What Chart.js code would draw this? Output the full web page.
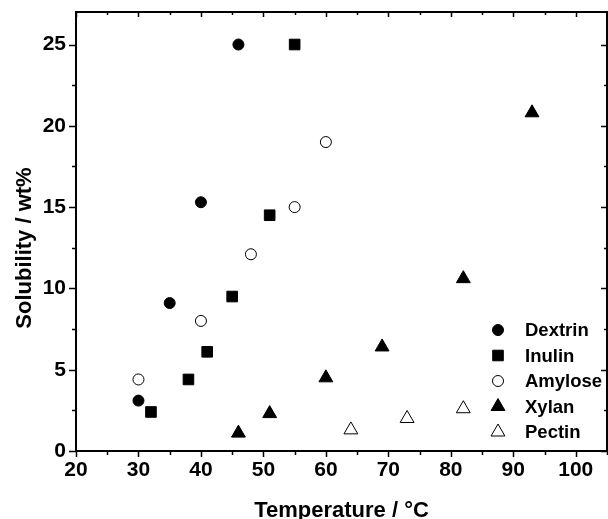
<!DOCTYPE html>
<html>
<head>
<meta charset="utf-8">
<script src="https://cdn.jsdelivr.net/npm/chart.js@4/dist/chart.umd.min.js"></script>
<style>
  html, body { margin: 0; padding: 0; background: #fff; overflow: hidden; }
  #wrap { width: 608px; height: 519px; }
  canvas { display: block; }
</style>
</head>
<body>
<div id="wrap"><canvas id="solChart" width="608" height="519"></canvas></div>
<script>
// solubility data (temperature in degC, solubility in wt%)
var dextrinT = [30, 35, 40, 46];
var dextrinS = [3.1, 9.1, 15.3, 25];
var inulinT = [32, 38, 41, 45, 51, 55];
var inulinS = [2.4, 4.4, 6.1, 9.5, 14.5, 25];
var amyloseT = [30, 40, 48, 55, 60];
var amyloseS = [4.4, 8.0, 12.1, 15.0, 19.0];
var xylanT = [46, 51, 60, 69, 82, 93];
var xylanS = [1.1, 2.3, 4.5, 6.4, 10.6, 20.8];
var pectinT = [64, 73, 82];
var pectinS = [1.3, 2.0, 2.6];

var xTitle = 'Temperature / °C';
var yTitle = 'Solubility / wt%';

var FONT = "'Liberation Sans', Arial, sans-serif";

function pts(xs, ys) {
  return xs.map(function (x, i) { return {x: x, y: ys[i]}; });
}

function series(label, xs, ys, style, filled, r) {
  return {
    label: label,
    data: pts(xs, ys),
    pointStyle: style,
    pointRadius: r,
    pointHoverRadius: r,
    pointBackgroundColor: filled ? '#000' : '#fff',
    pointBorderColor: '#000',
    pointBorderWidth: 1,
    showLine: false
  };
}

// frame + tick marks (outward on left/bottom, inward on top/right)
var frameTicks = {
  id: 'frameTicks',
  afterDraw: function (chart) {
    var ctx = chart.ctx, a = chart.chartArea;
    var xs = chart.scales.x, ys = chart.scales.y;
    ctx.save();
    ctx.strokeStyle = '#000';
    ctx.lineWidth = 1.5;
    for (var v = 20; v <= 105; v += 5) {
      var px = Math.round(xs.getPixelForValue(v)) + 0.5;
      var major = v % 10 === 0;
      ctx.beginPath();
      ctx.moveTo(px, a.bottom); ctx.lineTo(px, a.bottom + (major ? 6 : 4));
      ctx.moveTo(px, a.top); ctx.lineTo(px, a.top + (major ? 5 : 3));
      ctx.stroke();
    }
    for (var w = 0; w <= 27; w += 2.5) {
      var py = Math.round(ys.getPixelForValue(w)) + 0.5;
      var maj = w % 5 === 0;
      ctx.beginPath();
      ctx.moveTo(a.left, py); ctx.lineTo(a.left - (maj ? 7 : 4), py);
      ctx.moveTo(a.right, py); ctx.lineTo(a.right - (maj ? 6 : 3), py);
      ctx.stroke();
    }
    ctx.lineWidth = 2;
    ctx.strokeRect(a.left, a.top, a.right - a.left, a.bottom - a.top);

    // axis titles
    ctx.fillStyle = '#000';
    ctx.font = 'bold 22px ' + FONT;
    ctx.textAlign = 'center';
    ctx.textBaseline = 'alphabetic';
    ctx.fillText(xTitle, (a.left + a.right) / 2, 517);
    ctx.translate(31, 248);
    ctx.rotate(-Math.PI / 2);
    ctx.fillText(yTitle, 0, 0);
    ctx.restore();
  }
};

// legend inside the plot, bottom right
var insideLegend = {
  id: 'insideLegend',
  afterDraw: function (chart) {
    var ctx = chart.ctx;
    var x0 = 498, tx = 525, y0 = 330, gap = 25.5;
    ctx.save();
    ctx.font = 'bold 18.5px ' + FONT;
    ctx.textBaseline = 'middle';
    chart.data.datasets.forEach(function (ds, i) {
      var y = y0 + i * gap;
      ctx.fillStyle = ds.pointBackgroundColor;
      ctx.strokeStyle = '#000';
      ctx.lineWidth = 1;
      Chart.helpers.drawPoint(ctx, {pointStyle: ds.pointStyle, radius: ds.pointRadius, borderWidth: 1}, x0, y);
      ctx.fillStyle = '#000';
      ctx.fillText(ds.label, tx, y + 1);
    });
    ctx.restore();
  }
};

function noPad(s) {
  s.paddingLeft = 0; s.paddingRight = 0; s.paddingTop = 0; s.paddingBottom = 0;
}

var ctx_sc = document.getElementById('solChart').getContext('2d');
var solChart = new Chart(ctx_sc, {
  type: 'scatter',
  data: {
    datasets: [
      series('Dextrin', dextrinT, dextrinS, 'circle', true, 5.5),
      series('Inulin', inulinT, inulinS, 'rect', true, 7.5),
      series('Amylose', amyloseT, amyloseS, 'circle', false, 5.5),
      series('Xylan', xylanT, xylanS, 'triangle', true, 8),
      series('Pectin', pectinT, pectinS, 'triangle', false, 8)
    ]
  },
  options: {
    responsive: false,
    animation: false,
    layout: {autoPadding: false, padding: {top: 12, right: 1, left: 0, bottom: 0}},
    plugins: {legend: {display: false}, tooltip: {enabled: false}},
    scales: {
      x: {
        type: 'linear', min: 20, max: 105,
        grid: {display: false, tickLength: 0}, border: {display: false},
        ticks: {stepSize: 10, includeBounds: false, padding: 6.5, color: '#000',
                font: {family: FONT, size: 21, weight: 'bold'}},
        afterFit: function (s) { s.height = 68; noPad(s); }
      },
      y: {
        type: 'linear', min: 0, max: 27,
        grid: {display: false, tickLength: 0}, border: {display: false},
        ticks: {stepSize: 5, includeBounds: false, padding: 10, color: '#000',
                font: {family: FONT, size: 21, weight: 'bold'}},
        afterFit: function (s) { s.width = 76; noPad(s); }
      }
    }
  },
  plugins: [frameTicks, insideLegend]
});
</script>
</body>
</html>
